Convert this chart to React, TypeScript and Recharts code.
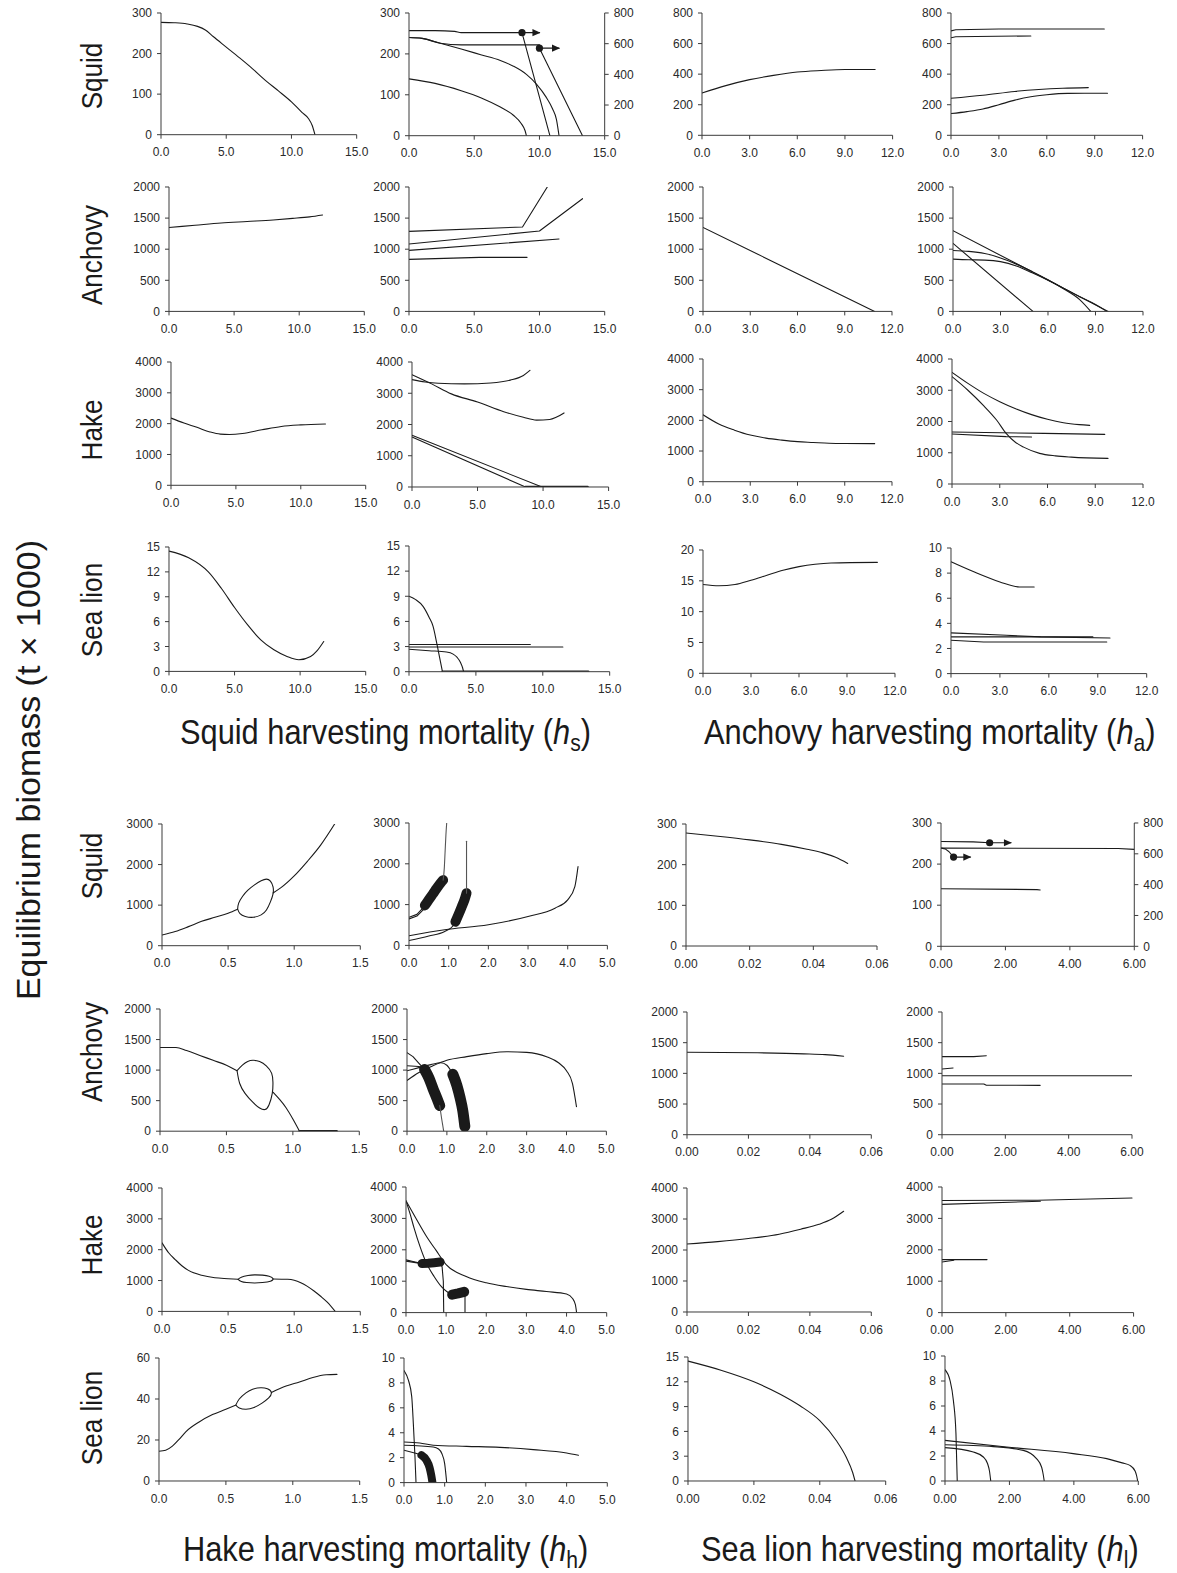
import React from 'react';
import { LineChart, Line, XAxis, YAxis } from 'recharts';

type P = [number, number][];

// ---------------- tick labels ----------------
const xTicksHs = [0, 5, 10, 15];
const xTicksHa = [0, 3, 6, 9, 12];
const xTicksHh1 = [0, 0.5, 1, 1.5];
const xTicksHh2 = [0, 1, 2, 3, 4, 5];
const xTicksHl1 = [0, 0.02, 0.04, 0.06];
const xTicksHl2 = [0, 2, 4, 6];
const yTicksSquid = [0, 100, 200, 300];
const yTicksSquid800 = [0, 200, 400, 600, 800];
const yTicksAnch = [0, 500, 1000, 1500, 2000];
const yTicksHake = [0, 1000, 2000, 3000, 4000];
const yTicksHake3 = [0, 1000, 2000, 3000];
const yTicksSea15 = [0, 3, 6, 9, 12, 15];
const yTicksSea20 = [0, 5, 10, 15, 20];
const yTicksSea10 = [0, 2, 4, 6, 8, 10];
const yTicksSea60 = [0, 20, 40, 60];

// ---------------- squid harvesting (hs) ----------------
const sqHs1: P = [[0,277],[1,276],[2,273],[2.8,267],[3.4,258],[4,242],[5,216],[6,190],[7,163],[8,134],[9,108],[10,81],[10.8,55],[11.3,40],[11.6,22],[11.8,0]];
const sqHs2aRight: P = [[0,685],[2,685],[3.5,680],[4,672],[8.66,672]];
const sqHs2aArrow: P = [[8.66,252],[10.0,252]];
const sqHs2aDrop: P = [[8.66,252],[10.8,0]];
const sqHs2bFlat: P = [[0,240],[1,238],[2.4,226],[4,222],[10,222]];
const sqHs2bArrow: P = [[10,214],[11.5,214]];
const sqHs2bDrop: P = [[10,214],[13.3,0]];
const sqHs2c: P = [[0,240],[1,238],[2.4,226],[4,212],[5.5,198],[7,184],[8,170],[9,150],[9.8,125],[10.5,95],[11,66],[11.3,40],[11.5,0]];
const sqHs2d: P = [[0,139],[2,128],[4,110],[5.5,93],[7,70],[8,50],[8.6,30],[8.9,12],[9.0,0]];

const anHs1: P = [[0,1350],[2,1385],[4,1420],[6,1445],[8,1470],[9.5,1495],[10.8,1520],[11.8,1550]];
const anHs2a: P = [[0,1287],[8.7,1357],[10.6,2000]];
const anHs2b: P = [[0,1083],[10,1292],[13.3,1812]];
const anHs2c: P = [[0,981],[11.5,1164]];
const anHs2d: P = [[0,836],[5.4,869],[9.05,869]];

const hkHs1: P = [[0,2180],[1,2020],[2,1880],[3,1730],[3.8,1660],[4.5,1650],[5.5,1680],[7,1800],[8.5,1910],[10,1960],[11.9,1990]];
const hkHs2a: P = [[0,3435],[1,3360],[2,3320],[4,3300],[6,3330],[7.5,3420],[8.5,3570],[9,3730]];
const hkHs2b: P = [[0,3595],[1.5,3300],[3,2980],[5,2720],[7,2410],[8.5,2230],[9.5,2140],[10.5,2160],[11,2230],[11.6,2370]];
const hkHs2c: P = [[0,1653],[9.92,0]];
const hkHs2d: P = [[0,1600],[8.66,0]];
const hkHs2zero: P = [[8.66,0],[13.4,0]];

const slHs1: P = [[0,14.5],[1.5,13.7],[3,12],[4,10],[5,7.7],[6,5.6],[7,3.8],[8,2.6],[9,1.8],[9.9,1.4],[10.8,1.8],[11.3,2.5],[11.8,3.6]];
const slHs2a: P = [[0,9],[0.5,8.6],[1.05,7.8],[1.5,6.5],[1.8,5.4],[2.05,3.6],[2.2,2.4],[2.5,0]];
const slHs2b: P = [[0,3.25],[9.07,3.25]];
const slHs2c: P = [[0,2.95],[11.5,2.95]];
const slHs2d: P = [[0,2.67],[1.5,2.5],[2.8,2.35],[3.3,2.1],[3.6,1.7],[3.85,1.1],[4.0,0.5],[4.08,0]];
const slHs2zero: P = [[2.5,0],[13.4,0]];

// ---------------- anchovy harvesting (ha) ----------------
const sqHa1: P = [[0,277],[1.5,325],[3,364],[4.5,392],[6,414],[7.5,424],[9,430],[10.9,430]];
const sqHa2a: P = [[0,683],[0.3,690],[3,695],[9.6,695]];
const sqHa2b: P = [[0,638],[0.3,645],[5.0,650]];
const sqHa2c: P = [[0,242],[2,262],[4,287],[5.5,300],[7,308],[8.6,312]];
const sqHa2d: P = [[0,142],[1,155],[2,172],[3,200],[4,230],[5,252],[6,265],[7.3,274],[9.8,275]];

const anHa1: P = [[0,1350],[10.9,0]];
const anHa2a: P = [[0,1298],[9.8,0]];
const anHa2b: P = [[0,1094],[5.05,0]];
const anHa2c: P = [[0,980],[1,965],[2,930],[3,860],[4,760],[5,640],[6,510],[7,360],[8,190],[8.7,0]];
const anHa2d: P = [[0,840],[1,830],[2,825],[3,800],[4,730],[5,620],[6,500],[7,370],[8,235],[9,110],[9.7,0]];

const hkHa1: P = [[0,2180],[1,1880],[2,1680],[3,1520],[4,1420],[5,1355],[6,1305],[7,1280],[8,1255],[9,1245],[10.9,1240]];
const hkHa2a: P = [[0,3573],[1,3220],[2,2900],[3,2635],[4,2410],[5,2220],[6,2070],[7,1960],[8,1900],[8.65,1877]];
const hkHa2b: P = [[0,3435],[1,3000],[2,2500],[2.8,2048],[3.4,1620],[4,1330],[4.5,1180],[5.5,980],[6.5,900],[7.5,860],[9.8,820]];
const hkHa2c: P = [[0,1664],[5.8,1621],[9.6,1589]];
const hkHa2d: P = [[0,1600],[3.4,1515],[5.0,1504]];

const slHa1: P = [[0,14.4],[1,14.2],[2,14.4],[3,15.1],[4,15.9],[5,16.7],[6,17.3],[7,17.7],[8,17.9],[10.9,18]];
const slHa2a: P = [[0,8.9],[1.4,8.1],[3,7.3],[4.2,6.9],[5.1,6.9]];
const slHa2b: P = [[0,3.24],[3.4,3.05],[5.5,2.92],[9.75,2.84]];
const slHa2c: P = [[0,2.92],[8.7,2.92]];
const slHa2d: P = [[0,2.65],[2,2.52],[9.55,2.52]];

// ---------------- hake harvesting (hh) ----------------
const sqHh1a: P = [[0,265],[0.1,350],[0.2,470],[0.3,600],[0.4,700],[0.5,800],[0.572,900]];
const sqHh1loop: P = [[0.572,900],[0.58,1050],[0.61,1220],[0.65,1370],[0.7,1500],[0.75,1600],[0.79,1640],[0.82,1590],[0.84,1450],[0.84,1280],[0.82,1080],[0.79,880],[0.75,760],[0.69,700],[0.63,720],[0.59,790],[0.572,900]];
const sqHh1b: P = [[0.84,1300],[0.9,1430],[1.0,1720],[1.1,2080],[1.2,2480],[1.306,3000]];
const sqHh2a1: P = [[0,690],[0.2,760],[0.4,970]];
const sqHh2a2: P = [[0,650],[0.2,720],[0.45,960]];
const sqHh2aBlob: P = [[0.4,980],[0.5,1120],[0.6,1260],[0.7,1400],[0.8,1530],[0.86,1600]];
const sqHh2aUp: P = [[0.86,1600],[0.89,1900],[0.91,2300],[0.93,2700],[0.95,3000]];
const sqHh2b1: P = [[0,120],[0.5,230],[0.9,340],[1.1,470],[1.17,580]];
const sqHh2bBlob: P = [[1.17,580],[1.25,760],[1.33,950],[1.4,1120],[1.45,1280]];
const sqHh2bUp: P = [[1.45,1280],[1.45,2550]];
const sqHh2c: P = [[0,236],[0.9,383],[2,505],[3,709],[3.68,913],[4.0,1116],[4.18,1442],[4.26,1930]];

const anHh1a: P = [[0,1370],[0.12,1370],[0.2,1320],[0.3,1240],[0.4,1160],[0.5,1080],[0.58,990]];
const anHh1loop: P = [[0.58,990],[0.62,1080],[0.66,1140],[0.7,1160],[0.75,1140],[0.8,1070],[0.84,950],[0.85,800],[0.845,620],[0.82,430],[0.79,355],[0.75,380],[0.7,470],[0.64,620],[0.6,780],[0.58,990]];
const anHh1b: P = [[0.85,640],[0.9,520],[0.95,380],[1.0,200],[1.05,0]];
const anHh1zero: P = [[1.05,0],[1.33,0]];
const anHh2a: P = [[0,1285],[0.15,1220],[0.3,1110],[0.44,1010]];
const anHh2aBlob: P = [[0.44,1010],[0.55,870],[0.65,700],[0.75,540],[0.82,420]];
const anHh2aDown: P = [[0.82,420],[0.87,200],[0.92,0]];
const anHh2b: P = [[0,830],[0.3,960],[0.65,1070],[1,1160],[1.5,1220],[2,1270],[2.5,1300],[3,1290],[3.5,1220],[3.8,1120],[4.0,990],[4.15,780],[4.25,400]];
const anHh2c: P = [[0,990],[0.3,1040],[0.6,1090],[0.85,1120],[1.0,1080],[1.15,930]];
const anHh2cBlob: P = [[1.15,930],[1.25,750],[1.33,550],[1.4,330],[1.45,80]];
const anHh2d: P = [[0,1070],[0.3,1060],[0.44,1010]];

const hkHh1a: P = [[0,2220],[0.05,1900],[0.1,1680],[0.15,1480],[0.2,1330],[0.3,1170],[0.4,1090],[0.5,1060],[0.575,1040]];
const hkHh1loop: P = [[0.575,1040],[0.6,1110],[0.65,1165],[0.7,1185],[0.76,1175],[0.81,1140],[0.84,1060],[0.82,980],[0.76,935],[0.7,920],[0.64,935],[0.6,970],[0.575,1040]];
const hkHh1b: P = [[0.84,1050],[0.95,1040],[1.0,1010],[1.05,930],[1.1,810],[1.15,660],[1.2,490],[1.25,300],[1.31,0]];
const hkHh2a: P = [[0,3560],[0.25,3000],[0.5,2450],[0.75,1980],[1.0,1530],[1.5,1150],[2,950],[2.5,830],[3,740],[3.5,670],[4,590],[4.15,450],[4.22,250],[4.25,0]];
const hkHh2b: P = [[0,3560],[0.1,3150],[0.2,2700],[0.35,2100],[0.5,1600],[0.7,1150],[0.9,800],[1.05,640],[1.15,580]];
const hkHh2bBlob: P = [[1.15,570],[1.3,610],[1.45,660]];
const hkHh2bDown: P = [[1.47,640],[1.47,0]];
const hkHh2c: P = [[0,1680],[0.2,1620],[0.38,1570]];
const hkHh2cBlob: P = [[0.4,1560],[0.55,1570],[0.7,1590],[0.85,1610]];
const hkHh2cDown: P = [[0.85,1600],[0.9,1450],[0.93,1000],[0.94,0]];
const hkHh2d: P = [[0,1640],[0.2,1600],[0.4,1560]];

const slHh1a: P = [[0,14.5],[0.05,15],[0.1,17],[0.15,20.3],[0.2,24],[0.3,28.8],[0.4,32.4],[0.5,35],[0.574,37]];
const slHh1loop: P = [[0.574,37],[0.6,40],[0.65,43],[0.7,44.8],[0.76,45.5],[0.81,45],[0.84,43.2],[0.82,40.5],[0.77,38],[0.71,35.8],[0.65,35],[0.6,35.6],[0.574,37]];
const slHh1b: P = [[0.84,43.2],[0.95,46.3],[1.05,48.3],[1.15,50.5],[1.25,51.8],[1.33,52]];
const slHh2a: P = [[0,9],[0.11,8.2],[0.19,6.9],[0.23,4.7],[0.27,2.06],[0.295,0]];
const slHh2b: P = [[0,3.26],[0.39,3.18],[0.72,3.0],[1.54,2.91],[2.36,2.83],[3.18,2.65],[4.0,2.38],[4.29,2.19]];
const slHh2c: P = [[0,3.0],[0.72,2.86],[0.85,2.7],[0.93,2.33],[1.0,1.52],[1.05,0]];
const slHh2d: P = [[0,2.6],[0.31,2.33],[0.43,2.2]];
const slHh2dBlob: P = [[0.43,2.2],[0.55,1.8],[0.63,1.2],[0.67,0.6],[0.7,0]];

// ---------------- sea lion harvesting (hl) ----------------
const sqHl1: P = [[0,278],[0.01,270],[0.02,261],[0.03,250],[0.038,238],[0.043,229],[0.047,218],[0.0508,203]];
const sqHl2a: P = [[0,255],[1.0,254],[1.51,252]];
const sqHl2aArrow: P = [[1.51,252],[2.17,252]];
const sqHl2b: P = [[0,239],[0.13,237],[0.25,230],[0.39,217]];
const sqHl2bArrow: P = [[0.39,217],[0.91,217]];
const sqHl2cRight: P = [[0,637],[5.5,635],[6,629]];
const sqHl2d: P = [[0,140],[2.98,138],[3.08,137]];

const anHl1: P = [[0,1345],[0.023,1335],[0.038,1318],[0.045,1305],[0.051,1278]];
const anHl2a: P = [[0,1272],[1.0,1272],[1.4,1288]];
const anHl2b: P = [[0,1071],[0.35,1087]];
const anHl2c: P = [[0,962],[6,962]];
const anHl2d: P = [[0,826],[1.32,826],[1.4,806],[3.1,804]];

const hkHl1: P = [[0,2195],[0.01,2270],[0.02,2370],[0.03,2510],[0.037,2670],[0.043,2830],[0.047,2990],[0.051,3250]];
const hkHl2a: P = [[0,3570],[3,3580],[5.95,3650]];
const hkHl2b: P = [[0,3448],[3.08,3544]];
const hkHl2c: P = [[0,1687],[1.41,1687]];
const hkHl2d: P = [[0,1613],[0.37,1666]];

const slHl1: P = [[0,14.5],[0.01,13.4],[0.02,12],[0.028,10.5],[0.034,9.1],[0.04,7.3],[0.045,4.9],[0.048,2.9],[0.05,1],[0.0507,0]];
const slHl2a: P = [[0,8.9],[0.155,8.05],[0.26,6.45],[0.34,3.79],[0.38,0]];
const slHl2b: P = [[0,3.25],[1.91,2.72],[3.98,2.19],[5.02,1.79],[5.5,1.45],[5.74,1.25],[5.9,0.8],[5.95,0.4],[5.98,0]];
const slHl2c: P = [[0,2.9],[1.5,2.75],[2.43,2.45],[2.84,1.79],[3.0,1.1],[3.05,0.5],[3.08,0]];
const slHl2d: P = [[0,2.67],[0.88,2.32],[1.19,1.92],[1.32,1.4],[1.38,0.8],[1.42,0]];

// ---------------- rendering ----------------
type S = { d: P; w?: number; c?: string; arrow?: boolean; r?: boolean; nat?: boolean };
type Cfg = {
  f: number[]; xd: number[]; xt: number[]; xf: number;
  yd: number[]; yt: number[]; yr?: { d: number[]; t: number[] }; s: S[];
};

const INK = '#1a1a1a';
const AX = '#3a3a3a';
const TXT = '#2a2a2a';
const FONT = '"Liberation Sans", Arial, Helvetica, sans-serif';
const BLOB = 10;
const ZERO = 2.4;

const ln = (d: P, o: Partial<S> = {}): S => ({ d, ...o });

const panels: Cfg[] = [
  // top half: squid harvesting
  { f: [161, 356.7, 13.3, 135], xd: [0, 15], xt: xTicksHs, xf: 1, yd: [0, 300], yt: yTicksSquid, s: [ln(sqHs1)] },
  { f: [409.3, 605, 13.3, 136], xd: [0, 15], xt: xTicksHs, xf: 1, yd: [0, 300], yt: yTicksSquid, yr: { d: [0, 800], t: yTicksSquid800 },
    s: [ln(sqHs2aRight, { r: true }), ln(sqHs2aArrow, { arrow: true }), ln(sqHs2aDrop), ln(sqHs2bFlat), ln(sqHs2bArrow, { arrow: true }), ln(sqHs2bDrop), ln(sqHs2c), ln(sqHs2d)] },
  { f: [169, 364.3, 187.3, 311.7], xd: [0, 15], xt: xTicksHs, xf: 1, yd: [0, 2000], yt: yTicksAnch, s: [ln(anHs1)] },
  { f: [409.3, 605, 187.3, 311.7], xd: [0, 15], xt: xTicksHs, xf: 1, yd: [0, 2000], yt: yTicksAnch,
    s: [ln(anHs2a), ln(anHs2b), ln(anHs2c), ln(anHs2d)] },
  { f: [171, 365.7, 361.7, 485], xd: [0, 15], xt: xTicksHs, xf: 1, yd: [0, 4000], yt: yTicksHake, s: [ln(hkHs1)] },
  { f: [411.7, 608.3, 361.7, 486.7], xd: [0, 15], xt: xTicksHs, xf: 1, yd: [0, 4000], yt: yTicksHake,
    s: [ln(hkHs2a), ln(hkHs2b), ln(hkHs2c), ln(hkHs2d), ln(hkHs2zero, { w: ZERO })] },
  { f: [169, 365.7, 547.3, 671.7], xd: [0, 15], xt: xTicksHs, xf: 1, yd: [0, 15], yt: yTicksSea15, s: [ln(slHs1)] },
  { f: [409.3, 610, 546, 671.7], xd: [0, 15], xt: xTicksHs, xf: 1, yd: [0, 15], yt: yTicksSea15,
    s: [ln(slHs2a), ln(slHs2b), ln(slHs2c), ln(slHs2d), ln(slHs2zero, { w: ZERO })] },
  // top half: anchovy harvesting
  { f: [701.7, 892.3, 12.7, 135], xd: [0, 12], xt: xTicksHa, xf: 1, yd: [0, 800], yt: yTicksSquid800, s: [ln(sqHa1)] },
  { f: [950.7, 1142.3, 12.7, 135], xd: [0, 12], xt: xTicksHa, xf: 1, yd: [0, 800], yt: yTicksSquid800,
    s: [ln(sqHa2a), ln(sqHa2b), ln(sqHa2c), ln(sqHa2d)] },
  { f: [703.3, 892.3, 187.3, 311.7], xd: [0, 12], xt: xTicksHa, xf: 1, yd: [0, 2000], yt: yTicksAnch, s: [ln(anHa1)] },
  { f: [953.3, 1143.3, 187.3, 311.7], xd: [0, 12], xt: xTicksHa, xf: 1, yd: [0, 2000], yt: yTicksAnch,
    s: [ln(anHa2a), ln(anHa2b), ln(anHa2c), ln(anHa2d)] },
  { f: [703.3, 892.3, 359, 481.7], xd: [0, 12], xt: xTicksHa, xf: 1, yd: [0, 4000], yt: yTicksHake, s: [ln(hkHa1)] },
  { f: [952.3, 1143.3, 359, 484], xd: [0, 12], xt: xTicksHa, xf: 1, yd: [0, 4000], yt: yTicksHake,
    s: [ln(hkHa2a), ln(hkHa2b), ln(hkHa2c), ln(hkHa2d)] },
  { f: [703.3, 895.3, 550, 673.3], xd: [0, 12], xt: xTicksHa, xf: 1, yd: [0, 20], yt: yTicksSea20, s: [ln(slHa1)] },
  { f: [951, 1146.7, 547.7, 673.3], xd: [0, 12], xt: xTicksHa, xf: 1, yd: [0, 10], yt: yTicksSea10,
    s: [ln(slHa2a), ln(slHa2b), ln(slHa2c), ln(slHa2d)] },
  // bottom half: hake harvesting
  { f: [161.7, 360, 824, 945.7], xd: [0, 1.5], xt: xTicksHh1, xf: 1, yd: [0, 3000], yt: yTicksHake3,
    s: [ln(sqHh1a), ln(sqHh1loop, { nat: true }), ln(sqHh1b)] },
  { f: [409.3, 607.7, 823.3, 945.7], xd: [0, 5], xt: xTicksHh2, xf: 1, yd: [0, 3000], yt: yTicksHake3,
    s: [ln(sqHh2a1), ln(sqHh2a2), ln(sqHh2aBlob, { w: BLOB }), ln(sqHh2aUp, { c: '#555' }), ln(sqHh2b1), ln(sqHh2bBlob, { w: BLOB }), ln(sqHh2bUp, { c: '#555' }), ln(sqHh2c)] },
  { f: [160, 359.3, 1009.3, 1131.5], xd: [0, 1.5], xt: xTicksHh1, xf: 1, yd: [0, 2000], yt: yTicksAnch,
    s: [ln(anHh1a), ln(anHh1loop, { nat: true }), ln(anHh1b), ln(anHh1zero, { w: ZERO })] },
  { f: [407.3, 606.7, 1009.3, 1131.5], xd: [0, 5], xt: xTicksHh2, xf: 1, yd: [0, 2000], yt: yTicksAnch,
    s: [ln(anHh2a), ln(anHh2d), ln(anHh2aBlob, { w: BLOB + 1 }), ln(anHh2aDown, { c: '#555' }), ln(anHh2b), ln(anHh2c), ln(anHh2cBlob, { w: BLOB + 1 })] },
  { f: [161.7, 360, 1188.3, 1311.7], xd: [0, 1.5], xt: xTicksHh1, xf: 1, yd: [0, 4000], yt: yTicksHake,
    s: [ln(hkHh1a), ln(hkHh1loop, { nat: true }), ln(hkHh1b)] },
  { f: [406, 606.7, 1186.7, 1312.3], xd: [0, 5], xt: xTicksHh2, xf: 1, yd: [0, 4000], yt: yTicksHake,
    s: [ln(hkHh2a), ln(hkHh2b), ln(hkHh2bBlob, { w: BLOB }), ln(hkHh2bDown), ln(hkHh2c), ln(hkHh2d), ln(hkHh2cBlob, { w: BLOB - 1 }), ln(hkHh2cDown)] },
  { f: [159.3, 360, 1357.7, 1480.7], xd: [0, 1.5], xt: xTicksHh1, xf: 1, yd: [0, 60], yt: yTicksSea60,
    s: [ln(slHh1a), ln(slHh1loop, { nat: true }), ln(slHh1b)] },
  { f: [404, 607.3, 1357.7, 1482.3], xd: [0, 5], xt: xTicksHh2, xf: 1, yd: [0, 10], yt: yTicksSea10,
    s: [ln(slHh2a), ln(slHh2b), ln(slHh2c), ln(slHh2d), ln(slHh2dBlob, { w: BLOB - 2 })] },
  // bottom half: sea lion harvesting
  { f: [685.7, 876.7, 824, 946], xd: [0, 0.06], xt: xTicksHl1, xf: 2, yd: [0, 300], yt: yTicksSquid, s: [ln(sqHl1)] },
  { f: [940.7, 1134, 822.7, 946], xd: [0, 6], xt: xTicksHl2, xf: 2, yd: [0, 300], yt: yTicksSquid, yr: { d: [0, 800], t: yTicksSquid800 },
    s: [ln(sqHl2a), ln(sqHl2aArrow, { arrow: true }), ln(sqHl2b), ln(sqHl2bArrow, { arrow: true }), ln(sqHl2cRight, { r: true }), ln(sqHl2d)] },
  { f: [686.7, 871, 1012.3, 1135], xd: [0, 0.06], xt: xTicksHl1, xf: 2, yd: [0, 2000], yt: yTicksAnch, s: [ln(anHl1)] },
  { f: [941.7, 1131.7, 1012.3, 1135], xd: [0, 6], xt: xTicksHl2, xf: 2, yd: [0, 2000], yt: yTicksAnch,
    s: [ln(anHl2a), ln(anHl2b), ln(anHl2c), ln(anHl2d)] },
  { f: [686.7, 871, 1188.3, 1312.3], xd: [0, 0.06], xt: xTicksHl1, xf: 2, yd: [0, 4000], yt: yTicksHake, s: [ln(hkHl1)] },
  { f: [941.7, 1133.3, 1186.7, 1312.3], xd: [0, 6], xt: xTicksHl2, xf: 2, yd: [0, 4000], yt: yTicksHake,
    s: [ln(hkHl2a), ln(hkHl2b), ln(hkHl2c), ln(hkHl2d)] },
  { f: [688.3, 886, 1356.7, 1480.7], xd: [0, 0.06], xt: xTicksHl1, xf: 2, yd: [0, 15], yt: yTicksSea15, s: [ln(slHl1)] },
  { f: [945, 1138.3, 1355.7, 1480.7], xd: [0, 6], xt: xTicksHl2, xf: 2, yd: [0, 10], yt: yTicksSea10,
    s: [ln(slHl2a), ln(slHl2b), ln(slHl2c), ln(slHl2d)] },
];

const increasing = (d: P) => d.every((p, i) => i === 0 || p[0] > d[i - 1][0]);
const curveOf = (s: S) => (s.nat ? 'natural' : s.d.length >= 5 && increasing(s.d) ? 'monotone' : 'linear');
const toXY = (d: P) => d.map(([x, y]) => ({ x, y }));

const arrowDot = (props: any) => {
  const { cx, cy, index } = props;
  if (index === 0) return <circle key={`c${index}`} cx={cx} cy={cy} r={3.6} fill={INK} />;
  return <path key={`t${index}`} d={`M${cx + 1},${cy} L${cx - 7},${cy - 3.6} L${cx - 7},${cy + 3.6} Z`} fill={INK} />;
};

const LM = 50, TM = 10, RM = 32, BM = 30;

function Panel({ p }: { p: Cfg }) {
  const [x0, x1, y0, y1] = p.f;
  const w = x1 - x0, h = y1 - y0;
  const width = w + LM + RM;
  const height = h + TM + BM;
  const hasRight = !!p.yr;
  const tickStyle = { fill: TXT, fontSize: 12, fontFamily: FONT };
  return (
    <div style={{ position: 'absolute', left: x0 - LM, top: y0 - TM, width, height }}>
      <LineChart width={width} height={height} margin={{ top: TM, right: hasRight ? 0 : RM, bottom: 0, left: 0 }}>
        <XAxis type="number" dataKey="x" domain={p.xd} ticks={p.xt} interval={0} allowDataOverflow
          tickFormatter={(v: number) => v.toFixed(p.xf)} height={BM} tickSize={4} tickMargin={9}
          stroke={AX} tick={tickStyle} />
        <YAxis yAxisId="l" type="number" domain={p.yd} ticks={p.yt} interval={0} allowDataOverflow
          width={LM} tickSize={4} tickMargin={5} stroke={AX} tick={tickStyle} />
        {hasRight && (
          <YAxis yAxisId="r" orientation="right" type="number" domain={p.yr!.d} ticks={p.yr!.t} interval={0} allowDataOverflow
            width={RM} tickSize={4} tickMargin={5} stroke={AX} tick={tickStyle} />
        )}
        {p.s.map((s, i) => (
          <Line key={i} yAxisId={s.r ? 'r' : 'l'} data={toXY(s.d)} dataKey="y"
            type={curveOf(s)}
            stroke={s.c || INK} strokeWidth={s.w || 1.1} strokeLinecap="round" strokeLinejoin="round"
            dot={s.arrow ? arrowDot : false} activeDot={false} isAnimationActive={false} />
        ))}
      </LineChart>
    </div>
  );
}

const rowLabels = ['Squid', 'Anchovy', 'Hake', 'Sea lion'];
const rowCentersTop = [76, 255, 430, 610];
const rowCentersBottom = [866, 1052, 1245, 1418];

function Title({ x, y, name, sub }: { x: number; y: number; name: string; sub: string }) {
  return (
    <g transform={`translate(${x},${y}) scale(0.88,1)`}>
      <text x={0} y={0} fontSize={35} fill={INK}>
        {name} harvesting mortality (<tspan fontStyle="italic">h</tspan>
        <tspan fontSize={24} dy={7}>{sub}</tspan>
        <tspan dy={-7}>)</tspan>
      </text>
    </g>
  );
}

export default function App() {
  return (
    <div style={{ position: 'absolute', left: 0, top: 0, width: 1177, height: 1573, overflow: 'hidden', background: '#fff', fontFamily: FONT }}>
      <svg width={1177} height={1573} style={{ position: 'absolute', left: 0, top: 0 }}>
        <text x={0} y={0} transform="translate(28,770) rotate(-90)" textAnchor="middle" dominantBaseline="central" fontSize={34} fill={INK}>
          Equilibrium biomass (t × 1000)
        </text>
        {[...rowCentersTop, ...rowCentersBottom].map((cy, i) => (
          <g key={i} transform={`translate(92,${cy}) rotate(-90) scale(0.9,1)`}>
            <text x={0} y={0} textAnchor="middle" dominantBaseline="central" fontSize={29} fill={INK}>{rowLabels[i % 4]}</text>
          </g>
        ))}
        <Title x={180} y={744} name="Squid" sub="s" />
        <Title x={704} y={744} name="Anchovy" sub="a" />
        <Title x={183} y={1561} name="Hake" sub="h" />
        <Title x={701} y={1561} name="Sea lion" sub="l" />
      </svg>
      {panels.map((p, i) => <Panel key={i} p={p} />)}
    </div>
  );
}
